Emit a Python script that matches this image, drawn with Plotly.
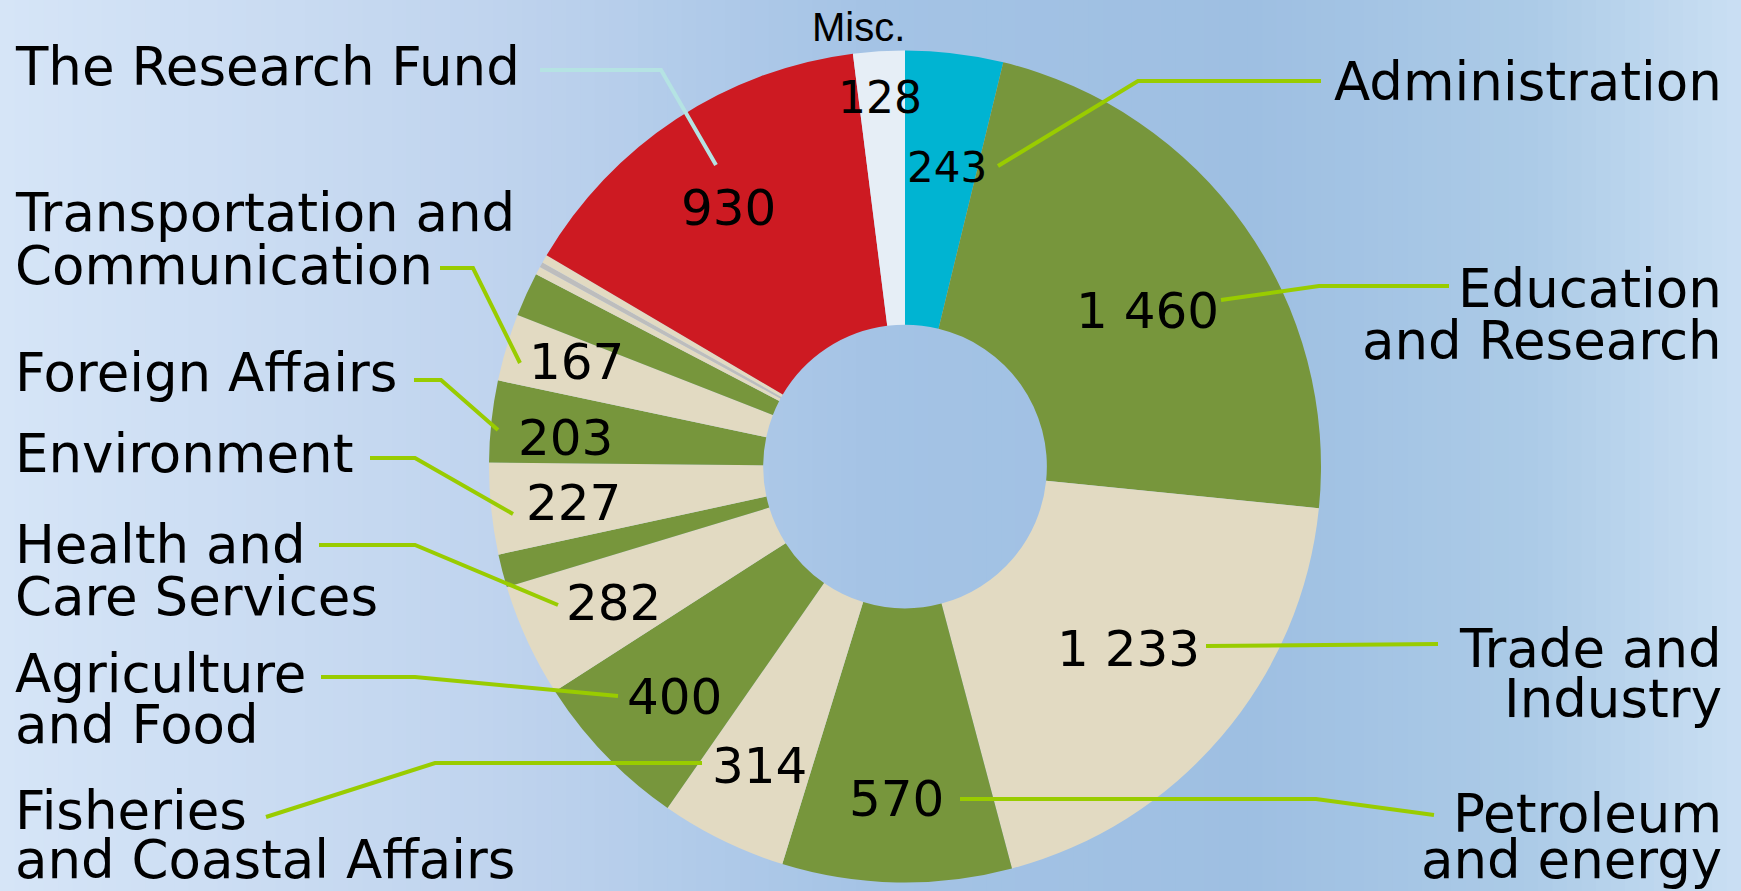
import math
import plotly.graph_objects as go

# ---------------- data ----------------
categories = [
    "Administration", "Education and Research", "Trade and Industry",
    "Petroleum and energy", "Fisheries and Coastal Affairs", "Agriculture and Food",
    "Health and Care Services", "Unlabelled A", "Environment", "Foreign Affairs",
    "Transportation and Communication", "Unlabelled B", "Unlabelled C",
    "Unlabelled D", "Unlabelled E", "The Research Fund", "Misc.",
]
values = [243, 1460, 1233, 570, 314, 400, 282, 82, 227, 203, 167, 110, 20, 13, 20, 930, 128]
value_text = ["243", "1 460", "1 233", "570", "314", "400", "282", "", "227", "203",
              "167", "", "", "", "", "930", "128"]

# ---------------- style ----------------
W, H = 1741, 891
CX, CY, R = 905.0, 466.5, 416.0
HOLE = 0.341
GREEN, BEIGE = "#77963C", "#E2DAC2"
slice_colors = ["#00B4D2", GREEN, BEIGE, GREEN, BEIGE, GREEN, BEIGE, GREEN, BEIGE, GREEN,
                BEIGE, GREEN, BEIGE, "#BDBDBD", BEIGE, "#CD1A22", "#E6EEF6"]
# value label placement: radial distance (px), angular nudge (deg), font size
label_radius = [302, 288, 289, 333, 333, 326, 322, 0, 333, 341, 345, 0, 0, 0, 0, 313, 370]
label_nudge = [1.2, 2.6, -1.2, 0.3, 0, -1.0, -0.3, 0, -0.4, -1.5, 1.0, 0, 0, 0, 0, -1.0, -0.2]
label_size = [42, 50, 50, 50, 50, 50, 50, 0, 50, 50, 50, 0, 0, 0, 0, 50, 44]

FONT = "DejaVu Sans, Verdana, sans-serif"
LEAD = "#99CC00"
NAME_SIZE = 53

# category text lines: (text, x_px, y_px, x-anchor, y-anchor)
name_lines = [
    ("The Research Fund", 14, 67, "left", "middle"),
    ("Transportation and", 14, 212, "left", "middle"),
    ("Communication", 14, 265, "left", "middle"),
    ("Foreign Affairs", 14, 372, "left", "middle"),
    ("Environment", 14, 453, "left", "middle"),
    ("Health and", 14, 544, "left", "middle"),
    ("Care Services", 14, 596, "left", "middle"),
    ("Agriculture", 14, 673, "left", "middle"),
    ("and Food", 14, 724, "left", "middle"),
    ("Fisheries", 14, 810, "left", "middle"),
    ("and Coastal Affairs", 14, 891, "left", "bottom"),
    ("Administration", 1723, 81, "right", "middle"),
    ("Education", 1723, 289, "right", "middle"),
    ("and Research", 1723, 340, "right", "middle"),
    ("Trade and", 1723, 648, "right", "middle"),
    ("Industry", 1723, 698, "right", "middle"),
    ("Petroleum", 1723, 813, "right", "middle"),
    ("and energy", 1723, 891, "right", "bottom"),
]

# leader polylines in px
leaders = [
    ([(540, 70), (661, 70), (716, 165)], "#B5E3E3"),
    ([(1321, 81), (1138, 81), (998, 166)], LEAD),
    ([(1449, 286), (1319, 286), (1221, 300)], LEAD),
    ([(1438, 644), (1206, 646)], LEAD),
    ([(1434, 815), (1316, 799), (960, 799)], LEAD),
    ([(266, 817), (435, 763), (702, 763)], LEAD),
    ([(321, 677), (415, 677), (618, 696)], LEAD),
    ([(319, 545), (415, 545), (558, 605)], LEAD),
    ([(370, 458), (415, 458), (513, 514)], LEAD),
    ([(414, 380), (441, 380), (498, 430)], LEAD),
    ([(440, 268), (473, 268), (520, 363)], LEAD),
]


def px2paper(x, y):
    return x / W, 1 - y / H


fig = go.Figure()

fig.add_trace(go.Pie(
    labels=categories, values=values, sort=False, direction="clockwise", rotation=0,
    hole=HOLE, textinfo="none", marker=dict(colors=slice_colors, line=dict(width=0)),
    domain=dict(x=[(CX - R) / W, (CX + R) / W], y=[1 - (CY + R) / H, 1 - (CY - R) / H]),
    showlegend=False,
))

annotations = []
total = sum(values)
cum = 0.0
for v, txt, rr, nd, fs in zip(values, value_text, label_radius, label_nudge, label_size):
    mid = (cum + v / 2) / total * 2 * math.pi + math.radians(nd)
    cum += v
    if not txt:
        continue
    x = CX + rr * math.sin(mid)
    y = CY - rr * math.cos(mid)
    xp, yp = px2paper(x, y)
    annotations.append(dict(x=xp, y=yp, xref="paper", yref="paper", text=txt,
                            showarrow=False, xanchor="center", yanchor="middle",
                            font=dict(family=FONT, size=fs, color="black")))

for txt, x, y, anc, vanc in name_lines:
    xp, yp = px2paper(x, y)
    annotations.append(dict(x=xp, y=yp, xref="paper", yref="paper", text=txt,
                            showarrow=False, xanchor=anc, yanchor=vanc, borderpad=0,
                            font=dict(family=FONT, size=NAME_SIZE, color="black")))

xp, yp = px2paper(858, 27)
annotations.append(dict(x=xp, y=yp, xref="paper", yref="paper", text="Misc.",
                        showarrow=False, xanchor="center", yanchor="middle",
                        font=dict(family="Liberation Sans, Arial, sans-serif", size=40,
                                  color="black")))

shapes = []
# background gradient
stops = [(0.0, (214, 229, 247)), (0.28, (192, 212, 238)), (0.5, (164, 195, 229)),
         (0.72, (158, 191, 226)), (0.88, (172, 203, 231)), (1.0, (202, 223, 243))]


def grad(t):
    for (t0, c0), (t1, c1) in zip(stops[:-1], stops[1:]):
        if t0 <= t <= t1:
            f = (t - t0) / (t1 - t0)
            return "rgb(%d,%d,%d)" % tuple(round(a + (b - a) * f) for a, b in zip(c0, c1))
    return "rgb(%d,%d,%d)" % stops[-1][1]


N = 120
for i in range(N):
    shapes.append(dict(type="rect", xref="paper", yref="paper", x0=i / N, x1=(i + 1) / N + 0.002,
                       y0=0, y1=1, fillcolor=grad((i + 0.5) / N), line=dict(width=0),
                       layer="below"))

for pts, col in leaders:
    path = ""
    for k, (x, y) in enumerate(pts):
        xp, yp = px2paper(x, y)
        path += ("M" if k == 0 else "L") + " %.5f %.5f " % (xp, yp)
    shapes.append(dict(type="path", xref="paper", yref="paper", path=path.strip(),
                       line=dict(color=col, width=4), layer="above"))

fig.update_layout(
    width=W, height=H, margin=dict(l=0, r=0, t=0, b=0),
    paper_bgcolor="rgb(180,205,232)", plot_bgcolor="rgba(0,0,0,0)",
    annotations=annotations, shapes=shapes,
)

fig.write_html("out.html", config={"displayModeBar": False},
               post_script="document.body.style.margin='0';document.body.style.overflow='hidden';")
